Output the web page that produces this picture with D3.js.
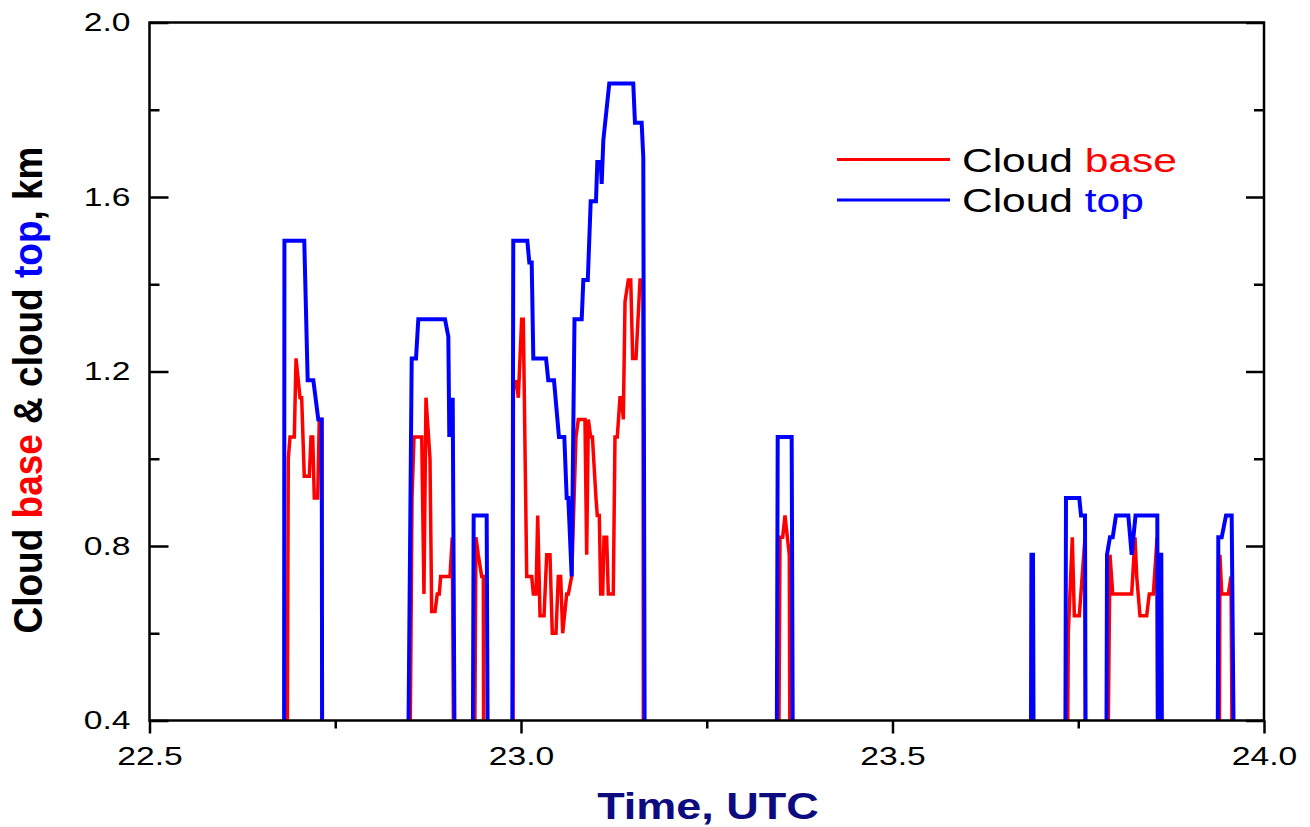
<!DOCTYPE html>
<meta charset="utf-8">
<head>
    <title>Cloud base and cloud top</title>
</head>
<style>
body { margin: 0; background: #fff; }
text { font-family: "Liberation Sans", Arial, sans-serif; }
</style>

<script src="https://d3js.org/d3.v7.min.js"></script>

<div id="viz"></div>

<script>
// tick values
var xMajor = [22.5, 23.0, 23.5, 24.0];
var xMinor = [22.75, 23.25, 23.75];
var yMajor = [0.4, 0.8, 1.2, 1.6, 2.0];
var yMinor = [0.6, 1.0, 1.4, 1.8];

// [time UTC, height km], 0 = no cloud
var cloudBase = [
  [22.5, 0],
  [22.6847, 0], [22.6868, 1.00], [22.6891, 1.05], [22.6949, 1.05], [22.6972, 1.23], [22.7026, 1.14], [22.7048, 1.14],
  [22.7083, 0.96], [22.7151, 0.96], [22.7174, 1.05], [22.7197, 1.05], [22.7218, 0.91], [22.7264, 0.91], [22.7285, 1.09],
  [22.7318, 1.09], [22.7326, 0],
  [22.8493, 0], [22.8533, 0.91], [22.8560, 1.05], [22.8664, 1.05], [22.8694, 0.69], [22.8721, 1.14], [22.8775, 1.00],
  [22.8798, 0.65], [22.8843, 0.65], [22.8873, 0.69], [22.8900, 0.69], [22.8919, 0.73], [22.9044, 0.73], [22.9075, 0.82],
  [22.9105, 0],
  [22.9365, 0], [22.9394, 0.82], [22.9425, 0.78], [22.9471, 0.73], [22.9493, 0.73], [22.9500, 0],
  [22.9890, 0], [22.9898, 1.16], [22.9933, 1.18], [22.9964, 1.14], [23.0009, 1.32], [23.0031, 1.32], [23.0077, 0.73],
  [23.0144, 0.73], [23.0166, 0.69], [23.0202, 0.69], [23.0225, 0.87], [23.0256, 0.64], [23.0310, 0.64], [23.0346, 0.78],
  [23.0390, 0.78], [23.0421, 0.60], [23.0471, 0.60], [23.0502, 0.73], [23.0534, 0.73], [23.0561, 0.60], [23.0615, 0.69],
  [23.0637, 0.69], [23.0682, 0.73], [23.0740, 1.05], [23.0771, 1.09], [23.0861, 1.09], [23.0884, 0.78], [23.0906, 1.09],
  [23.0938, 1.05], [23.0961, 1.05], [23.1009, 0.91], [23.1027, 0.87], [23.1054, 0.87], [23.1073, 0.69], [23.1100, 0.69],
  [23.1117, 0.82], [23.1153, 0.82], [23.1175, 0.69], [23.1242, 0.69], [23.1265, 1.05], [23.1296, 1.05], [23.1332, 1.14],
  [23.1355, 1.14], [23.1377, 1.09], [23.1400, 1.36], [23.1444, 1.41], [23.1477, 1.41], [23.1503, 1.23], [23.1548, 1.23],
  [23.1602, 1.41], [23.1642, 1.41], [23.1649, 0],
  [23.3459, 0], [23.3486, 0.82], [23.3522, 0.82], [23.3553, 0.87], [23.3611, 0.78], [23.3625, 0],
  [23.6860, 0], [23.6872, 0.78], [23.6890, 0.78], [23.6900, 0],
  [23.7345, 0], [23.7366, 0.60], [23.7420, 0.82], [23.7447, 0.64], [23.7514, 0.64], [23.7591, 0.82], [23.7601, 0],
  [23.7882, 0], [23.7927, 0.78], [23.7964, 0.69], [23.8219, 0.69], [23.8264, 0.82], [23.8287, 0.73], [23.8331, 0.64],
  [23.8421, 0.64], [23.8456, 0.69], [23.8510, 0.69], [23.8546, 0.78], [23.8560, 0.82], [23.8574, 0],
  [23.8592, 0], [23.8596, 0.78], [23.8616, 0.78], [23.8628, 0],
  [23.9394, 0], [23.9407, 0.78], [23.9431, 0.69], [23.9520, 0.69], [23.9556, 0.73], [23.9583, 0],
  [24.0, 0]
];

var cloudTop = [
  [22.5, 0],
  [22.6810, 0], [22.6816, 1.50], [22.7083, 1.50], [22.7129, 1.18], [22.7205, 1.18], [22.7272, 1.09], [22.7318, 1.09],
  [22.7326, 0],
  [22.8466, 0], [22.8529, 1.23], [22.8587, 1.23], [22.8618, 1.32], [22.8977, 1.32], [22.9022, 1.28], [22.9035, 1.05],
  [22.9081, 1.14], [22.9116, 0],
  [22.9345, 0], [22.9363, 0.87], [22.9538, 0.87], [22.9560, 0],
  [22.9879, 0], [22.9896, 1.50], [23.0085, 1.50], [23.0112, 1.45], [23.0144, 1.45], [23.0166, 1.23], [23.0337, 1.23],
  [23.0367, 1.18], [23.0444, 1.18], [23.0511, 1.05], [23.0583, 1.05], [23.0615, 0.91], [23.0637, 0.91], [23.0682, 0.73],
  [23.0720, 1.32], [23.0817, 1.32], [23.0839, 1.41], [23.0899, 1.41], [23.0938, 1.59], [23.1009, 1.59], [23.1027, 1.68],
  [23.1073, 1.68], [23.1086, 1.63], [23.1108, 1.73], [23.1188, 1.86], [23.1511, 1.86], [23.1534, 1.77], [23.1624, 1.77],
  [23.1646, 1.69], [23.1669, 0],
  [23.3437, 0], [23.3455, 1.05], [23.3643, 1.05], [23.3665, 0],
  [23.6857, 0], [23.6871, 0.78], [23.6891, 0.78], [23.6905, 0],
  [23.7322, 0], [23.7335, 0.91], [23.7514, 0.91], [23.7537, 0.87], [23.7591, 0.87], [23.7604, 0],
  [23.7874, 0], [23.7887, 0.78], [23.7927, 0.82], [23.7964, 0.82], [23.8008, 0.87], [23.8174, 0.87], [23.8219, 0.78],
  [23.8271, 0.87], [23.8564, 0.87], [23.8578, 0], [23.8594, 0.78], [23.8618, 0.78], [23.8631, 0],
  [23.9372, 0], [23.9385, 0.82], [23.9431, 0.82], [23.9489, 0.87], [23.9565, 0.87], [23.9610, 0],
  [24.0, 0]
];

var W = 1310, H = 827;
var plot = {left: 149.5, right: 1264, top: 22.5, bottom: 720.5};
var stretch = 1.27;   // text in the original is widened horizontally

var svg = d3.select('#viz')
    .append('svg')
        .attr('width', W)
        .attr('height', H);

var x = d3.scaleLinear()
    .domain([22.5, 24.0])
    .range([plot.left, plot.right]);

var y = d3.scaleLinear()
    .domain([0.4, 2.0])
    .range([plot.bottom, plot.top]);

svg.append('clipPath')
    .attr('id', 'clip')
  .append('rect')
    .attr('x', plot.left)
    .attr('y', plot.top)
    .attr('width', plot.right - plot.left)
    .attr('height', plot.bottom - plot.top);

var line = d3.line()
    .x(function(d) { return x(d[0]); })
    .y(function(d) { return y(d[1]); });

var lines = svg.append('g').attr('clip-path', 'url(#clip)');
lines.append('path')
    .datum(cloudBase)
    .attr('d', line)
    .attr('fill', 'none')
    .attr('stroke', '#ff0000')
    .attr('stroke-width', 3.5);
lines.append('path')
    .datum(cloudTop)
    .attr('d', line)
    .attr('fill', 'none')
    .attr('stroke', '#0000ff')
    .attr('stroke-width', 4);

function styleAxis(g) {
    g.select('.domain').remove();
    g.selectAll('.tick line').attr('stroke', '#000').attr('stroke-width', 2.5);
}

// left axis
svg.append('g')
    .attr('transform', 'translate(' + plot.left + ',0)')
    .call(d3.axisLeft(y).tickValues(yMajor).tickSize(-19).tickPadding(15).tickFormat(d3.format('.1f')))
    .call(styleAxis)
    .selectAll('text')
        .attr('font-size', 26.5)
        .attr('font-family', '"Liberation Sans", Arial, sans-serif')
        .attr('fill', '#000')
        .attr('transform', 'scale(' + stretch + ',1)');
svg.append('g')
    .attr('transform', 'translate(' + plot.left + ',0)')
    .call(d3.axisLeft(y).tickValues(yMinor).tickSize(-10).tickFormat(''))
    .call(styleAxis);

// right axis
svg.append('g')
    .attr('transform', 'translate(' + plot.right + ',0)')
    .call(d3.axisRight(y).tickValues(yMajor).tickSize(-18).tickFormat(''))
    .call(styleAxis);
svg.append('g')
    .attr('transform', 'translate(' + plot.right + ',0)')
    .call(d3.axisRight(y).tickValues(yMinor).tickSize(-10).tickFormat(''))
    .call(styleAxis);

// bottom axis
svg.append('g')
    .attr('transform', 'translate(0,' + plot.bottom + ')')
    .call(d3.axisBottom(x).tickValues(xMajor).tickSize(13).tickFormat(d3.format('.1f')))
    .call(styleAxis)
    .selectAll('text')
        .attr('y', 44.5)
        .attr('dy', 0)
        .attr('font-size', 26.5)
        .attr('font-family', '"Liberation Sans", Arial, sans-serif')
        .attr('fill', '#000')
        .attr('transform', 'scale(' + stretch + ',1)');
svg.append('g')
    .attr('transform', 'translate(0,' + plot.bottom + ')')
    .call(d3.axisBottom(x).tickValues(xMinor).tickSize(8).tickFormat(''))
    .call(styleAxis);

// frame
svg.append('rect')
    .attr('x', plot.left)
    .attr('y', plot.top)
    .attr('width', plot.right - plot.left)
    .attr('height', plot.bottom - plot.top)
    .attr('fill', 'none')
    .attr('stroke', '#000')
    .attr('stroke-width', 2.5);

// legend
var legend = [
    {word: 'base', color: '#ff0000', y: 159.5},
    {word: 'top', color: '#0000ff', y: 200}
];
legend.forEach(function(d) {
    svg.append('line')
        .attr('x1', 837).attr('x2', 950)
        .attr('y1', d.y).attr('y2', d.y)
        .attr('stroke', d.color)
        .attr('stroke-width', 3);
    var t = svg.append('text')
        .attr('transform', 'translate(962,' + (d.y + 12) + ') scale(1.25,1)')
        .attr('font-size', 34);
    t.append('tspan').attr('fill', '#000').text('Cloud ');
    t.append('tspan').attr('fill', d.color).text(d.word);
});

// x title
svg.append('text')
    .attr('transform', 'translate(708,819) scale(1.25,1)')
    .attr('text-anchor', 'middle')
    .attr('font-size', 36)
    .attr('font-weight', 'bold')
    .attr('fill', '#0c0c80')
    .text('Time, UTC');

// y title
var yWords = [
    {w: 'Cloud ', c: '#000'},
    {w: 'base', c: '#ff0000'},
    {w: ' & cloud ', c: '#000'},
    {w: 'top', c: '#0000ff'},
    {w: ', km', c: '#000'}
];
var yt = svg.append('text')
    .attr('transform', 'translate(42,390) scale(1.1,1) rotate(-90)')
    .attr('text-anchor', 'middle')
    .attr('font-size', 37)
    .attr('font-weight', 'bold');
yWords.forEach(function(d) {
    yt.append('tspan')
        .attr('fill', d.c)
        .text(d.w);
});
</script>
